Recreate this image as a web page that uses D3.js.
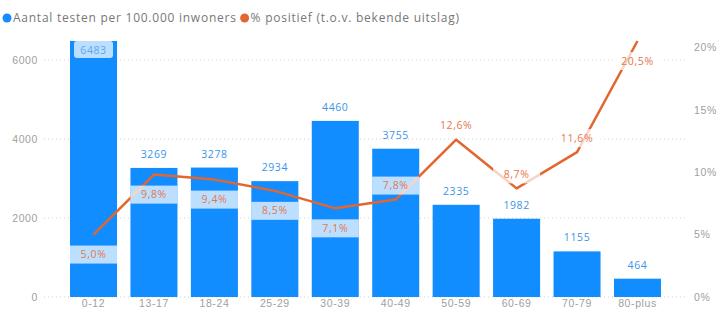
<!DOCTYPE html>
<html>
<head>
<meta charset="utf-8">
<script src="https://cdn.jsdelivr.net/npm/d3@7"></script>
<style>
  html, body { margin: 0; padding: 0; background: #fff; }
  svg { display: block; font-family: "Open Sans", "Noto Sans", sans-serif; }
</style>
</head>
<body>
<svg id="chart" width="720" height="311"></svg>
<script>
const categories = ["0-12", "13-17", "18-24", "25-29", "30-39", "40-49", "50-59", "60-69", "70-79", "80-plus"];
const testsPer100k = [6483, 3269, 3278, 2934, 4460, 3755, 2335, 1982, 1155, 464];
const pctPositive = [5.0, 9.8, 9.4, 8.5, 7.1, 7.8, 12.6, 8.7, 11.6, 20.5];
const pctLabelSide = ["below", "below", "below", "below", "below", "above", "above", "above", "above", "below"];
const leftTicks = [0, 2000, 4000, 6000];
const rightTicks = [0, 5, 10, 15, 20];
const legendLabels = ["Aantal testen per 100.000 inwoners", "% positief (t.o.v. bekende uitslag)"];

const plotTop = 41, plotBottom = 297;
const blue = "#118dff", orange = "#e2662f";
const svg = d3.select("#chart");

const x = d3.scaleBand().domain(categories).range([63.3, 667.7]).paddingInner(0.222).paddingOuter(0.111);
const yL = d3.scaleLinear().domain([0, d3.max(testsPer100k)]).range([plotBottom, plotTop]);
const yR = d3.scaleLinear().domain([0, d3.max(pctPositive)]).range([plotBottom, plotTop]);
const fmtPct = v => d3.format(".1f")(v).replace(".", ",") + "%";

function styleText(sel, size, spacing, color) {
  return sel.attr("fill", color).style("font-size", size + "px").style("letter-spacing", spacing + "px");
}

// gridlines
svg.append("g").selectAll("line").data(leftTicks).join("line")
  .attr("x1", 44).attr("x2", 688)
  .attr("y1", d => yL(d)).attr("y2", d => yL(d))
  .attr("stroke", "#d0d0d0").attr("stroke-width", 1).attr("stroke-dasharray", "1,3");

// left axis
const axL = svg.append("g").attr("transform", "translate(40,0)")
  .call(d3.axisLeft(yL).tickValues(leftTicks).tickSize(0).tickPadding(2).tickFormat(d3.format("d")));
axL.select(".domain").remove();
styleText(axL.selectAll("text"), 10.5, 0.6, "#a0a0a0");

// right axis
const axR = svg.append("g").attr("transform", "translate(692,0)")
  .call(d3.axisRight(yR).tickValues(rightTicks).tickSize(0).tickPadding(2).tickFormat(d => d + "%"));
axR.select(".domain").remove();
styleText(axR.selectAll("text"), 10.5, 0.6, "#a0a0a0");

// x axis
const axX = svg.append("g").attr("transform", `translate(0,${plotBottom})`)
  .call(d3.axisBottom(x).tickSize(0).tickPadding(3));
axX.select(".domain").remove();
styleText(axX.selectAll("text"), 10.5, 0.6, "#a0a0a0");

// bars
svg.append("g").selectAll("rect").data(testsPer100k).join("rect")
  .attr("x", (d, i) => x(categories[i]))
  .attr("width", x.bandwidth())
  .attr("y", d => yL(d))
  .attr("height", d => plotBottom - yL(d))
  .attr("fill", blue);

// bar labels
const barLab = svg.append("g");
testsPer100k.forEach((d, i) => {
  const cx = x(categories[i]) + x.bandwidth() / 2;
  const inside = yL(d) - 20 < plotTop - 5;
  if (inside) {
    barLab.append("rect").attr("x", x(categories[i]) + 4).attr("y", yL(d))
      .attr("width", x.bandwidth() - 8).attr("height", 17).attr("rx", 3)
      .attr("fill", "#fff").attr("fill-opacity", 0.72);
    styleText(barLab.append("text").attr("x", cx).attr("y", yL(d) + 12.5).attr("text-anchor", "middle"), 10.5, 0.6, "#5aa6ef").text(d);
  } else {
    styleText(barLab.append("text").attr("x", cx).attr("y", yL(d) - 10).attr("text-anchor", "middle"), 10.5, 0.6, "#3a94ea").text(d);
  }
});

// line
const line = d3.line()
  .x((d, i) => x(categories[i]) + x.bandwidth() / 2)
  .y(d => yR(d));
svg.append("path").datum(pctPositive).attr("d", line)
  .attr("fill", "none").attr("stroke", orange).attr("stroke-width", 2.5).attr("stroke-linejoin", "round");

// pct labels
const pctLab = svg.append("g");
pctPositive.forEach((d, i) => {
  const cx = x(categories[i]) + x.bandwidth() / 2;
  const cy = pctLabelSide[i] === "below" ? yR(d) + 20 : yR(d) - 14;
  pctLab.append("rect").attr("x", x(categories[i])).attr("y", cy - 9)
    .attr("width", x.bandwidth()).attr("height", 18)
    .attr("fill", "#fff").attr("fill-opacity", 0.72);
  styleText(pctLab.append("text").attr("x", cx).attr("y", cy + 3.5).attr("text-anchor", "middle"), 10.5, 0.6, "#e4774a").text(fmtPct(d));
});

// legend
const leg = svg.append("g").attr("transform", "translate(0,18)");
let lx = 7;
[blue, orange].forEach((c, i) => {
  leg.append("circle").attr("cx", lx).attr("cy", 0).attr("r", 4.5).attr("fill", c);
  const t = styleText(leg.append("text").attr("x", lx + 6).attr("y", 4), 12, 0.75, "#777").text(legendLabels[i]);
  lx += 6 + t.node().getComputedTextLength() + 8;
});
</script>
</body>
</html>
